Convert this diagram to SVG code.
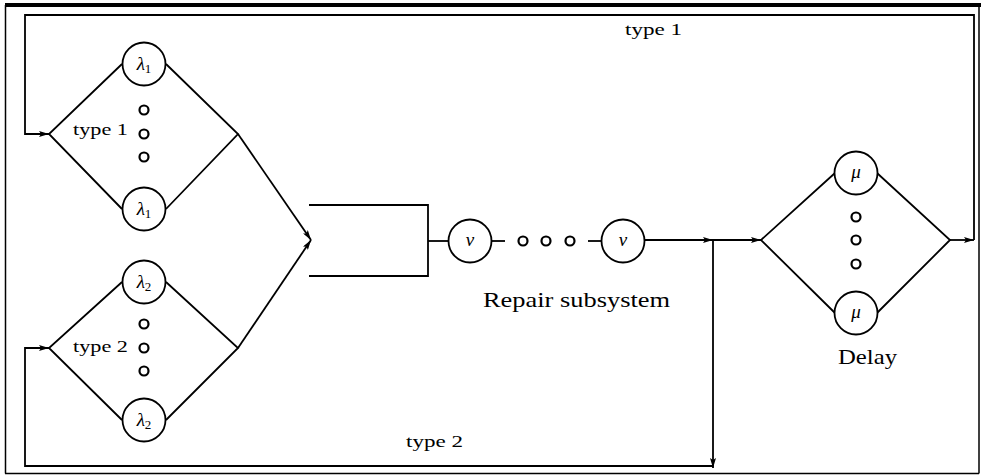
<svg xmlns="http://www.w3.org/2000/svg" width="982" height="476" viewBox="0 0 982 476">
<defs>
<marker id="arr" viewBox="0 0 10 6" refX="10" refY="3" markerWidth="10" markerHeight="6" markerUnits="userSpaceOnUse" orient="auto">
<path d="M0,0 L10,3 L0,6 L2,3 Z" fill="#000"/>
</marker>
<style>
.ln{fill:none;stroke:#000;stroke-width:1.8}
.nd{fill:#fff;stroke:#000;stroke-width:1.8}
.dot{fill:none;stroke:#000;stroke-width:2.2}
.lbl{font-family:"Liberation Serif",serif;font-size:17px;fill:#000}
.big{font-family:"Liberation Serif",serif;font-size:21px;fill:#000}
.sym{font-family:"Liberation Serif",serif;font-size:19px;font-style:italic;fill:#000}
.sub{font-style:normal;font-size:13px}
</style>
</defs>
<rect x="0" y="0" width="982" height="476" fill="#fff"/>
<g id="frame">
<line x1="5" y1="5" x2="981" y2="5" stroke="#000" stroke-width="4"/>
<line x1="5.5" y1="5" x2="5.5" y2="473.5" stroke="#000" stroke-width="1.5"/>
<line x1="5" y1="473.5" x2="979" y2="473.5" stroke="#000" stroke-width="1.5"/>
<line x1="979" y1="5" x2="979" y2="473.5" stroke="#000" stroke-width="1.5"/>
</g>
<g id="connectors">
<polyline class="ln" points="950,240 974,240" marker-end="url(#arr)"/>
<polyline class="ln" points="974,240 974,15 25,15 25,134 49,134" marker-end="url(#arr)"/>
<polyline class="ln" points="713,240 713,468" marker-end="url(#arr)"/>
<polyline class="ln" points="713,466 25,466 25,348 49,348" marker-end="url(#arr)"/>
<line class="ln" x1="238" y1="134" x2="311" y2="240" marker-end="url(#arr)"/>
<line class="ln" x1="238" y1="348" x2="311" y2="240" marker-end="url(#arr)"/>
<line class="ln" x1="428" y1="241" x2="449" y2="241"/>
<line class="ln" x1="491" y1="241" x2="505" y2="241"/>
<line class="ln" x1="588" y1="241" x2="602" y2="241"/>
<line class="ln" x1="644" y1="240" x2="713" y2="240" marker-end="url(#arr)"/>
<line class="ln" x1="713" y1="240" x2="761" y2="240" marker-end="url(#arr)"/>
</g>
<g id="type1-station">
<polyline class="ln" points="122,64 49,134 122,209"/>
<polyline class="ln" points="166,64 238,134 166,209"/>
<circle class="nd" cx="144" cy="64" r="21.5"/>
<circle class="nd" cx="144" cy="209" r="21.5"/>
<text class="sym" x="144" y="70" text-anchor="middle">λ<tspan class="sub" dy="3">1</tspan></text>
<text class="sym" x="144" y="215" text-anchor="middle">λ<tspan class="sub" dy="3">1</tspan></text>
<circle class="dot" cx="144" cy="110" r="4.5"/>
<circle class="dot" cx="144" cy="134" r="4.5"/>
<circle class="dot" cx="144" cy="157" r="4.5"/>
<text class="lbl" x="73" y="135" textLength="55" lengthAdjust="spacingAndGlyphs">type 1</text>
</g>
<g id="type2-station">
<polyline class="ln" points="122,282 49,348 122,420"/>
<polyline class="ln" points="166,282 238,348 166,420"/>
<circle class="nd" cx="144" cy="282" r="21.5"/>
<circle class="nd" cx="144" cy="420" r="21.5"/>
<text class="sym" x="144" y="288" text-anchor="middle">λ<tspan class="sub" dy="3">2</tspan></text>
<text class="sym" x="144" y="426" text-anchor="middle">λ<tspan class="sub" dy="3">2</tspan></text>
<circle class="dot" cx="144" cy="324" r="4.5"/>
<circle class="dot" cx="144" cy="348" r="4.5"/>
<circle class="dot" cx="144" cy="371" r="4.5"/>
<text class="lbl" x="73" y="352" textLength="55" lengthAdjust="spacingAndGlyphs">type 2</text>
</g>
<g id="repair-subsystem">
<polyline class="ln" points="309,205 428,205 428,276 309,276"/>
<circle class="nd" cx="470" cy="241" r="21.5"/>
<circle class="nd" cx="623" cy="241" r="21.5"/>
<text class="sym" x="470" y="246" text-anchor="middle" font-size="17">ν</text>
<text class="sym" x="623" y="246" text-anchor="middle" font-size="17">ν</text>
<circle class="dot" cx="523" cy="241" r="4.5"/>
<circle class="dot" cx="546" cy="241" r="4.5"/>
<circle class="dot" cx="570" cy="241" r="4.5"/>
<text class="big" x="483" y="307" textLength="187" lengthAdjust="spacingAndGlyphs">Repair subsystem</text>
</g>
<g id="delay">
<polyline class="ln" points="835,173 761,240 835,313"/>
<polyline class="ln" points="877,173 950,240 877,313"/>
<circle class="nd" cx="856" cy="173" r="21.5"/>
<circle class="nd" cx="856" cy="313" r="21.5"/>
<text class="sym" x="856" y="178" text-anchor="middle" font-size="17">μ</text>
<text class="sym" x="856" y="318" text-anchor="middle" font-size="17">μ</text>
<circle class="dot" cx="856" cy="217" r="4.5"/>
<circle class="dot" cx="856" cy="240" r="4.5"/>
<circle class="dot" cx="856" cy="264" r="4.5"/>
<text class="big" x="838" y="364" textLength="59" lengthAdjust="spacingAndGlyphs">Delay</text>
</g>
<g id="labels">
<text class="lbl" x="625" y="35" textLength="57" lengthAdjust="spacingAndGlyphs">type 1</text>
<text class="lbl" x="406" y="447" textLength="57" lengthAdjust="spacingAndGlyphs">type 2</text>
</g>
</svg>
